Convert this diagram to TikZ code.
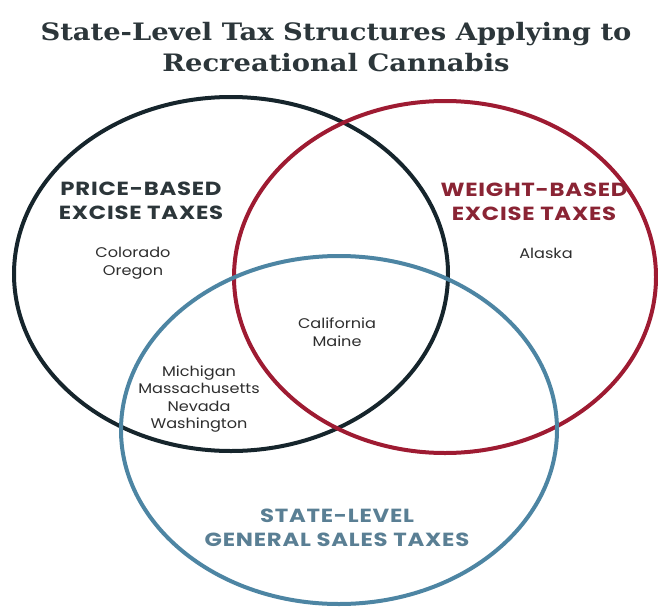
\documentclass[tikz,border=0pt]{standalone}
\usepackage{fontspec}
\newfontfamily\titlefont{DejaVu Serif}[FakeStretch=1.14]
\newfontfamily\labfont{Poppins}[UprightFont=* Bold, FakeStretch=1.2, LetterSpace=4]
\newfontfamily\smallfont{Poppins}[FakeStretch=1.15]
\definecolor{cblack}{HTML}{16252C}
\definecolor{cred}{HTML}{9E1B32}
\definecolor{cblue}{HTML}{4D85A3}
\definecolor{tdark}{HTML}{2C363A}
\definecolor{tred}{HTML}{8A2434}
\definecolor{tblue}{HTML}{5A7F94}
\definecolor{tgrey}{HTML}{2E2E2E}
\tikzset{
  ring/.style={line width=4pt},
  title/.style={font=\titlefont\bfseries\fontsize{24}{31}\selectfont, text=tdark, align=center, inner sep=0pt},
  lab/.style={font=\labfont\fontsize{19}{24}\selectfont, align=center, inner sep=0pt},
  states/.style={font=\smallfont\fontsize{14}{17.5}\selectfont, text=tgrey, align=center, inner sep=0pt}
}
\begin{document}
\begin{tikzpicture}[x=1pt,y=-1pt]
\useasboundingbox (0,0) rectangle (658,608);
\begin{scope}
\clip (0,0) rectangle (658,608);
\draw[ring, cblack] (231,274) ellipse [x radius=217, y radius=177];
\draw[ring, cred] (445,277) ellipse [x radius=211, y radius=176];
\draw[ring, cblue] (339,430) ellipse [x radius=218, y radius=174];
\end{scope}
\node[title] (t) at (336,47) {State-Level Tax Structures Applying to\\Recreational Cannabis};
\node[lab, text=tdark] (p) at (141,201) {PRICE-BASED\\EXCISE TAXES};
\node[lab, text=tred] (w) at (534,202) {WEIGHT-BASED\\EXCISE TAXES};
\node[lab, text=tblue] (s) at (337,528) {STATE-LEVEL\\GENERAL SALES TAXES};
\node[states] (co) at (133,263) {Colorado\\Oregon};
\node[states] (ak) at (546,253) {Alaska};
\node[states] (ca) at (337,332) {California\\Maine};
\node[states] (mi) at (199,399) {Michigan\\Massachusetts\\Nevada\\Washington};
\end{tikzpicture}
\end{document}
